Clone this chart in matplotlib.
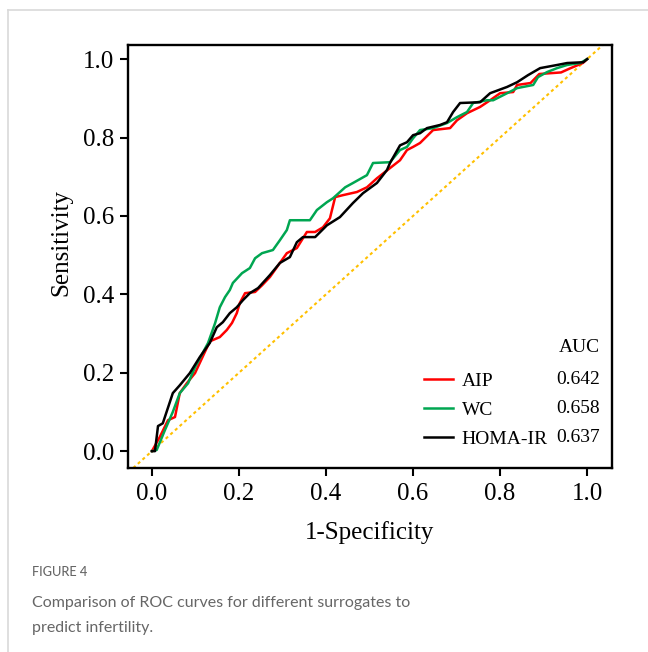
import numpy as np
import matplotlib
matplotlib.use("Agg")
import matplotlib.pyplot as plt
from matplotlib.lines import Line2D

# ROC curves (1-specificity, sensitivity)
aip_x = [0, 0.018, 0.037, 0.053, 0.064, 0.08, 0.099, 0.115, 0.133, 0.156, 0.172, 0.184,
         0.195, 0.202, 0.214, 0.237, 0.253, 0.271, 0.294, 0.31, 0.333, 0.356, 0.375,
         0.393, 0.409, 0.421, 0.439, 0.471, 0.494, 0.517, 0.547, 0.57, 0.586, 0.6,
         0.616, 0.646, 0.685, 0.701, 0.724, 0.754, 0.777, 0.8, 0.83, 0.839, 0.87,
         0.89, 0.94, 0.96, 0.99, 1.0]
aip_y = [0, 0.036, 0.079, 0.087, 0.148, 0.173, 0.199, 0.237, 0.28, 0.291, 0.309, 0.327,
         0.352, 0.378, 0.403, 0.406, 0.423, 0.444, 0.48, 0.505, 0.518, 0.559, 0.559,
         0.571, 0.594, 0.648, 0.653, 0.661, 0.673, 0.696, 0.722, 0.742, 0.768, 0.776,
         0.786, 0.819, 0.824, 0.844, 0.862, 0.878, 0.895, 0.913, 0.916, 0.934, 0.939,
         0.962, 0.966, 0.976, 0.99, 1.0]

wc_x = [0, 0.011, 0.03, 0.048, 0.064, 0.083, 0.099, 0.129, 0.145, 0.156, 0.168, 0.179,
        0.186, 0.207, 0.225, 0.237, 0.253, 0.278, 0.294, 0.31, 0.317, 0.363, 0.379,
        0.402, 0.416, 0.444, 0.462, 0.494, 0.508, 0.547, 0.57, 0.586, 0.6, 0.616,
        0.646, 0.678, 0.701, 0.724, 0.738, 0.77, 0.784, 0.816, 0.839, 0.876, 0.887,
        0.908, 0.931, 0.954, 0.984, 1.0]
wc_y = [0, 0.003, 0.054, 0.1, 0.148, 0.173, 0.214, 0.276, 0.326, 0.367, 0.393, 0.411,
        0.429, 0.454, 0.467, 0.492, 0.505, 0.513, 0.538, 0.564, 0.589, 0.589, 0.615,
        0.635, 0.645, 0.673, 0.684, 0.704, 0.735, 0.737, 0.768, 0.776, 0.798, 0.819,
        0.824, 0.837, 0.852, 0.865, 0.888, 0.895, 0.895, 0.913, 0.926, 0.934, 0.954,
        0.967, 0.977, 0.985, 0.99, 1.0]

homa_x = [0, 0.007, 0.014, 0.025, 0.048, 0.064, 0.087, 0.11, 0.133, 0.149, 0.163, 0.179,
          0.195, 0.209, 0.225, 0.244, 0.271, 0.294, 0.317, 0.333, 0.347, 0.375, 0.402,
          0.432, 0.462, 0.485, 0.517, 0.54, 0.547, 0.57, 0.586, 0.6, 0.616, 0.632,
          0.662, 0.678, 0.692, 0.708, 0.754, 0.777, 0.816, 0.839, 0.864, 0.892, 0.931,
          0.954, 0.991, 1.0]
homa_y = [0, 0.0, 0.064, 0.071, 0.148, 0.168, 0.199, 0.24, 0.276, 0.316, 0.329, 0.352,
          0.367, 0.385, 0.403, 0.416, 0.449, 0.48, 0.495, 0.533, 0.546, 0.546, 0.576,
          0.597, 0.633, 0.658, 0.684, 0.717, 0.735, 0.78, 0.788, 0.806, 0.811, 0.824,
          0.832, 0.839, 0.865, 0.888, 0.89, 0.913, 0.929, 0.941, 0.959, 0.977, 0.985,
          0.99, 0.992, 1.0]

names = ["AIP", "WC", "HOMA-IR"]
aucs = ["0.642", "0.658", "0.637"]
colors = ["#ff0000", "#00a651", "#000000"]
curves = [(aip_x, aip_y), (wc_x, wc_y), (homa_x, homa_y)]
ticks = [0.0, 0.2, 0.4, 0.6, 0.8, 1.0]

serif = "Liberation Serif"

fig = plt.figure(figsize=(6.48, 6.52), dpi=100)
ax = fig.add_axes([0.1975, 0.2822, 0.7469, 0.6488])

ax.axline((0, 0), (1, 1), color="#ffc000", lw=1.5, ls=(0, (1.5, 1.5)), zorder=1)
handles = []
for (xs, ys), c, n in zip(curves, colors, names):
    h, = ax.plot(xs, ys, color=c, lw=1.8, label=n, zorder=2)
    handles.append(h)

ax.set_xlim(-0.055, 1.057)
ax.set_ylim(-0.043, 1.036)
ax.set_xticks(ticks)
ax.set_yticks(ticks)
ax.set_xticklabels(["%.1f" % t for t in ticks], family=serif, fontsize=18)
ax.set_yticklabels(["%.1f" % t for t in ticks], family=serif, fontsize=18)
ax.tick_params(direction="out", length=6, width=1.5, color="black")
ax.tick_params(axis="x", pad=5)
ax.tick_params(axis="y", pad=4)
for s in ax.spines.values():
    s.set_linewidth(1.7)

ax.set_xlabel("1-Specificity", family=serif, fontsize=18, labelpad=11)
ax.set_ylabel("Sensitivity", family=serif, fontsize=18)
ax.yaxis.set_label_coords(-0.115, 0.532)

leg = ax.legend(handles=handles, loc="lower left", bbox_to_anchor=(0.612, 0.047),
                frameon=False, prop={"family": serif, "size": 14},
                handlelength=1.5, handletextpad=0.42, labelspacing=0.6,
                borderaxespad=0, borderpad=0)
ax.text(0.975, 0.286, "AUC", transform=ax.transAxes, ha="right", va="center",
        family=serif, fontsize=14)
for i, a in enumerate(aucs):
    ax.text(0.975, 0.209 - i * 0.0686, a, transform=ax.transAxes, ha="right",
            va="center", family=serif, fontsize=14)

# page frame lines
fig.add_artist(Line2D([0.013, 1.0], [0.985, 0.985], color="#d9d9d9", lw=1.2))
fig.add_artist(Line2D([0.013, 0.013], [0.0, 0.985], color="#d9d9d9", lw=1.2))

fig.text(0.049, 0.1227, "FIGURE 4", family="Lato", fontsize=9.2,
         color="#666666", va="center", weight="medium")
fig.text(0.049, 0.0752, "Comparison of ROC curves for different surrogates to",
         family="Lato", fontsize=11.5, color="#666666", va="center")
fig.text(0.049, 0.0368, "predict infertility.", family="Lato", fontsize=11.5,
         color="#666666", va="center")

fig.savefig("out.png", dpi=100)
